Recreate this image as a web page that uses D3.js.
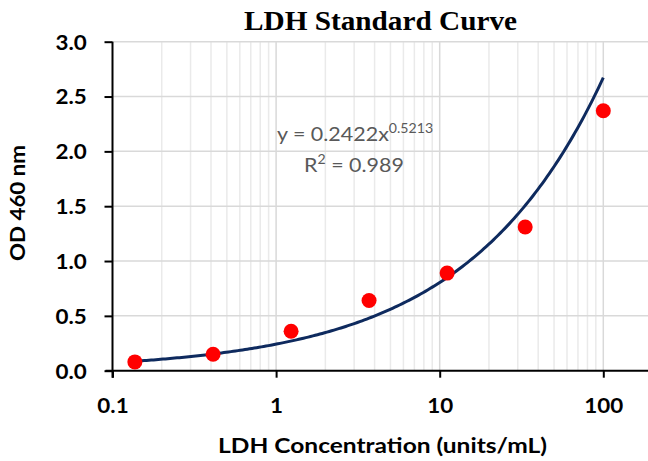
<!DOCTYPE html>
<html><head><meta charset="utf-8">
<script src="https://cdn.jsdelivr.net/npm/d3@7"></script>
<style>html,body{margin:0;padding:0;background:#fff;}</style>
</head><body>
<svg id="c" width="648" height="461"></svg>
<script>
const concentrations = [0.137, 0.412, 1.235, 3.70, 11.1, 33.3, 100];
const odValues = [0.08, 0.15, 0.36, 0.64, 0.89, 1.31, 2.37];
const fitCoef = 0.2422, fitExp = 0.5213;
const xTicks = [0.1, 1, 10, 100];
const xTickLabels = ["0.1", "1", "10", "100"];
const yTicks = [0, 0.5, 1.0, 1.5, 2.0, 2.5, 3.0];

const FONT = "Lato, 'Open Sans', sans-serif";
const svg = d3.select("#c");
const x = d3.scaleLog().domain([0.1, 100]).range([112.5, 603.3]);
const y = d3.scaleLinear().domain([0, 3]).range([370.7, 41.7]);
const xRight = 648;

// minor grid
const minor = [];
[0.1, 1, 10].forEach(d => { for (let k = 2; k <= 9; k++) minor.push(d * k); });
svg.append("g").selectAll("line").data(minor).join("line")
  .attr("x1", d => x(d)).attr("x2", d => x(d))
  .attr("y1", y(3)).attr("y2", y(0))
  .attr("stroke", "#eaeaea").attr("stroke-width", 1.5);
// major vertical
svg.append("g").selectAll("line").data(xTicks.slice(1)).join("line")
  .attr("x1", d => x(d)).attr("x2", d => x(d))
  .attr("y1", y(3)).attr("y2", y(0))
  .attr("stroke", "#d9d9d9").attr("stroke-width", 1.5);
// horizontal grid
svg.append("g").selectAll("line").data(yTicks.slice(1)).join("line")
  .attr("x1", x(0.1)).attr("x2", xRight)
  .attr("y1", d => y(d)).attr("y2", d => y(d))
  .attr("stroke", "#d9d9d9").attr("stroke-width", 1.5);

const SX = 1.12;
// y axis
const yAxis = d3.axisLeft(y).tickValues(yTicks).tickFormat(d3.format(".1f")).tickSize(8);
const gy = svg.append("g").attr("transform", `translate(${x(0.1)},0)`).call(yAxis);
gy.select(".domain").remove();
gy.append("line").attr("x1", 0).attr("x2", 0).attr("y1", y(3)).attr("y2", y(0) + 7)
  .attr("stroke", "#000").attr("stroke-width", 2);
gy.selectAll(".tick line").attr("stroke", "#000").attr("stroke-width", 2);
gy.selectAll(".tick text").attr("font-family", FONT)
  .attr("font-weight", "bold").attr("font-size", 20).attr("fill", "#000")
  .attr("x", -25.8 / SX).attr("dy", "0.37em").attr("transform", `scale(${SX},1)`);

// x axis
const xAxis = d3.axisBottom(x).tickValues(xTicks).tickFormat((d, i) => xTickLabels[i]).tickSize(7);
const gx = svg.append("g").attr("transform", `translate(0,${y(0)})`).call(xAxis);
gx.select(".domain").remove();
gx.append("line").attr("x1", x(0.1) - 7).attr("x2", xRight).attr("y1", 0).attr("y2", 0)
  .attr("stroke", "#000").attr("stroke-width", 2);
gx.selectAll(".tick line").attr("stroke", "#000").attr("stroke-width", 2);
gx.selectAll(".tick text").attr("font-family", FONT)
  .attr("font-weight", "bold").attr("font-size", 20).attr("fill", "#000")
  .attr("y", 42.5).attr("dy", null).attr("transform", `scale(${SX},1)`);

// fit curve
const lo = Math.log10(concentrations[0]), hi = Math.log10(concentrations[concentrations.length - 1]);
const xs = d3.range(0, 201).map(i => Math.pow(10, lo + i / 200 * (hi - lo)));
const line = d3.line().x(d => x(d)).y(d => y(fitCoef * Math.pow(d, fitExp)));
svg.append("path").attr("d", line(xs)).attr("fill", "none").attr("stroke", "#0e2a5e").attr("stroke-width", 3);

// points
svg.append("g").selectAll("circle").data(concentrations).join("circle")
  .attr("cx", d => x(d)).attr("cy", (d, i) => y(odValues[i])).attr("r", 7.5).attr("fill", "#ff0000");

// equation label
const eq = svg.append("text").attr("transform", "translate(355,141) scale(1.13,1)").attr("text-anchor", "middle")
  .attr("font-family", FONT).attr("font-size", 19).attr("fill", "#595959");
eq.append("tspan").text("y = " + fitCoef + "x");
eq.append("tspan").attr("font-size", 12.5).attr("dy", -8).text(fitExp);
const r2 = svg.append("text").attr("transform", "translate(354,172) scale(1.13,1)").attr("text-anchor", "middle")
  .attr("font-family", FONT).attr("font-size", 19).attr("fill", "#595959");
r2.append("tspan").text("R");
r2.append("tspan").attr("font-size", 12.5).attr("dy", -8).text("2");
r2.append("tspan").attr("dy", 8).text(" = 0.989");

// titles
svg.append("text").attr("x", 380.5).attr("y", 29.5).attr("text-anchor", "middle")
  .attr("font-family", "'Liberation Serif', 'Times New Roman', serif").attr("font-weight", "bold")
  .attr("font-size", 28).attr("fill", "#000")
  .attr("textLength", 273).attr("lengthAdjust", "spacingAndGlyphs").text("LDH Standard Curve");
svg.append("text").attr("x", 382.5).attr("y", 453).attr("text-anchor", "middle")
  .attr("font-family", FONT).attr("font-weight", "bold")
  .attr("font-size", 21).attr("fill", "#000")
  .attr("textLength", 329).attr("lengthAdjust", "spacingAndGlyphs").text("LDH Concentration (units/mL)");
svg.append("text").attr("transform", "translate(25,203) rotate(-90)").attr("text-anchor", "middle")
  .attr("font-family", FONT).attr("font-weight", "bold")
  .attr("font-size", 21).attr("fill", "#000")
  .attr("textLength", 116).attr("lengthAdjust", "spacingAndGlyphs").text("OD 460 nm");
</script>
</body></html>
